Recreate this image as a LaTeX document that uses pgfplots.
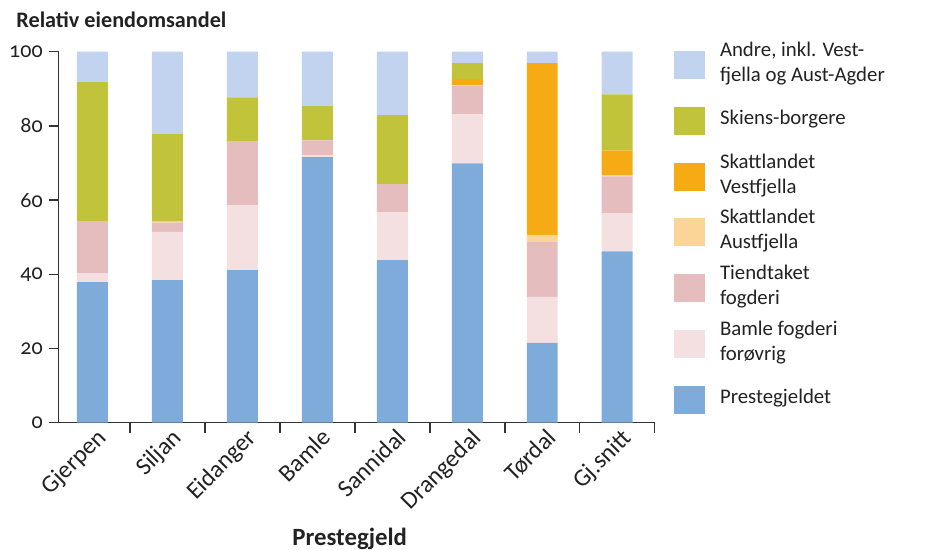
\documentclass[border=0pt]{standalone}
\usepackage{fontspec}
\setmainfont{Carlito}[Numbers=OldStyle]
\usepackage{pgfplots}
\pgfplotsset{compat=1.18}

\definecolor{cPrest}{HTML}{7EABDA}
\definecolor{cBamle}{HTML}{F4E0E0}
\definecolor{cTiend}{HTML}{E5BDBF}
\definecolor{cAust}{HTML}{FBD498}
\definecolor{cVest}{HTML}{F6AA14}
\definecolor{cSkien}{HTML}{C1C43A}
\definecolor{cAndre}{HTML}{C1D3EE}
\definecolor{cText}{HTML}{222222}

% legend text: fixed-height box, bottom on the baseline
\newcommand{\entry}[1]{\parbox[b][26.4pt][c]{98pt}{\raggedright #1}}

\begin{document}
\begin{tikzpicture}[font=\fontsize{10.4}{12.5}\selectfont, text=cText]
\path (-29.35pt,-63.15pt) rectangle (436.15pt,211.35pt);
\begin{axis}[
    scale only axis,
    width=298pt, height=185.5pt,
    ybar stacked,
    bar width=0.413,
    xmin=-0.45, xmax=7.5,
    ymin=0, ymax=100,
    axis x line*=bottom,
    axis y line*=left,
    axis line style={draw=black!80, line width=0.75pt},
    xtick={0,...,7},
    xticklabels={Gjerpen,Siljan,Eidanger,Bamle,Sannidal,Drangedal,Tørdal,Gj.snitt},
    minor xtick={0.5,1.5,...,7.5},
    ytick={0,20,...,100},
    yticklabels={0,20,40,60,80,100},
    minor ytick={0,20,...,100},
    major tick length=0pt,
    minor tick length=5pt,
    tick align=outside,
    tick style={draw=black!80, line width=0.75pt},
    xticklabel style={xshift=1.5pt, yshift=-2pt, rotate=45, anchor=north east, inner sep=0pt,
        font=\fontsize{12.2}{13}\selectfont},
    yticklabel style={anchor=east, inner sep=0pt, font=\fontsize{11}{13}\selectfont, xshift=-7.8pt},
    title={Relativ eiendomsandel},
    title style={at={(axis description cs:0,0)}, anchor=base west, inner sep=0pt,
        xshift=-21.35pt, yshift=191.4pt, font=\bfseries\fontsize{11.1}{13}\selectfont},
    xlabel={Prestegjeld},
    xlabel style={at={(axis description cs:0,0)}, anchor=base, inner sep=0pt,
        xshift=145.5pt, yshift=-61.2pt, font=\bfseries\fontsize{12.4}{13}\selectfont},
    legend style={at={(1.0324,1.0394)}, anchor=north west, draw=none, fill=none,
        inner sep=0pt, outer sep=0pt, row sep=0pt, nodes={inner sep=0pt},
        /tikz/every odd column/.append style={column sep=7.5pt}},
    legend cell align=left,
    reverse legend,
    legend image code/.code={\fill[#1] (0pt,-7pt) rectangle (15.5pt,7pt);},
]

\addplot[fill=cPrest, draw=none] coordinates {
    (0,37.9) (1,38.4) (2,41.1) (3,71.6) (4,43.8) (5,69.9) (6,21.5) (7,46.2)};
\addlegendentry{\entry{Prestegjeldet}}

\addplot[fill=cBamle, draw=none] coordinates {
    (0,2.4) (1,13.0) (2,17.5) (3,0.6) (4,12.9) (5,13.2) (6,12.4) (7,10.3)};
\addlegendentry{\entry{Bamle fogderi\newline forøvrig}}

\addplot[fill=cTiend, draw=none] coordinates {
    (0,14.0) (1,2.5) (2,17.3) (3,3.9) (4,7.6) (5,7.6) (6,14.8) (7,9.9)};
\addlegendentry{\entry{Tiendtaket\newline fogderi}}

\addplot[fill=cAust, draw=none] coordinates {
    (0,0) (1,0.3) (2,0) (3,0) (4,0) (5,0.3) (6,1.9) (7,0.3)};
\addlegendentry{\entry{Skattlandet\newline Austfjella}}

\addplot[fill=cVest, draw=none] coordinates {
    (0,0) (1,0) (2,0) (3,0) (4,0) (5,1.6) (6,46.3) (7,6.7)};
\addlegendentry{\entry{Skattlandet\newline Vestfjella}}

\addplot[fill=cSkien, draw=none] coordinates {
    (0,37.5) (1,23.6) (2,11.8) (3,9.2) (4,18.6) (5,4.3) (6,0) (7,15.1)};
\addlegendentry{\entry{Skiens-borgere}}

\addplot[fill=cAndre, draw=none] coordinates {
    (0,8.2) (1,22.2) (2,12.3) (3,14.7) (4,17.1) (5,3.1) (6,3.1) (7,11.5)};
\addlegendentry{\entry{Andre, inkl. Vest-\newline fjella og Aust-Agder}}

\end{axis}
\end{tikzpicture}
\end{document}
